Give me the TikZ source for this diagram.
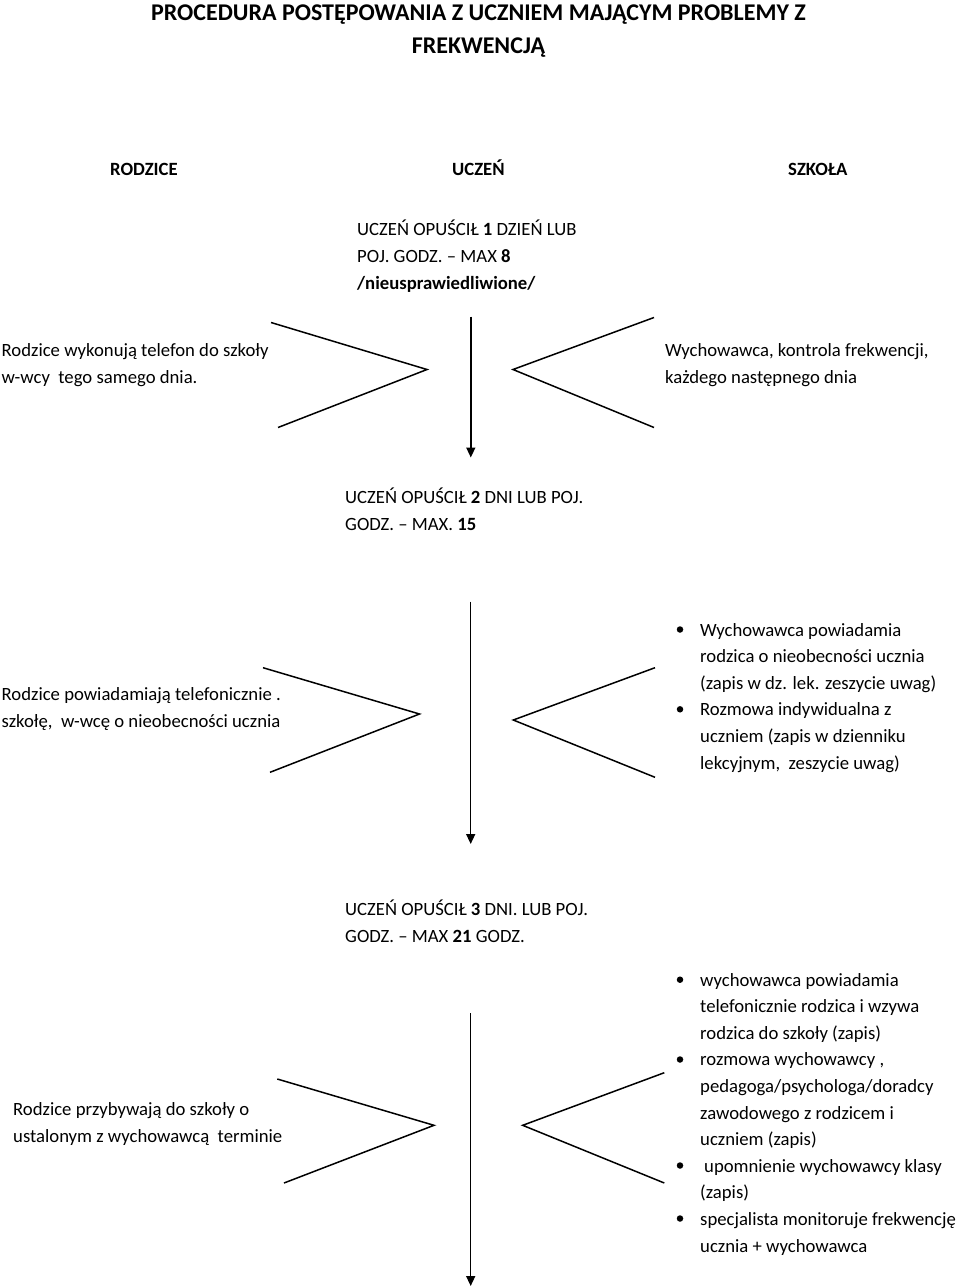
\documentclass[tikz,border=0pt]{standalone}
\usepackage{fontspec}
\setmainfont{Carlito}
\usetikzlibrary{arrows.meta}
\tikzset{
  txt/.style={anchor=base west, inner sep=0pt, align=left, font=\fontsize{18.7}{26.6}\selectfont},
  hdr/.style={anchor=base west, inner sep=0pt, font=\fontsize{18.7}{26.6}\selectfont\bfseries},
  ttl/.style={anchor=base, inner sep=0pt, font=\fontsize{24}{33}\selectfont\bfseries},
  chev/.style={line width=1.5pt, line join=miter},
  flow/.style={line width=1.5pt, -{Triangle[length=10pt,width=9pt]}},
  dot/.style={circle, fill, inner sep=0pt, minimum size=6.5pt},
}
\begin{document}
\begin{tikzpicture}[x=1pt,y=-1pt]
\useasboundingbox (0,0) rectangle (960,1288);
% title
\node[ttl] (t1) at (478.5,20.5) {PROCEDURA POSTĘPOWANIA Z UCZNIEM MAJĄCYM PROBLEMY Z};
\node[ttl] (t2) at (478.5,53) {FREKWENCJĄ};
% headers
\node[hdr] (hR) at (110,175) {RODZICE};
\node[hdr] (hU) at (452,175) {UCZEŃ};
\node[hdr] (hS) at (788,175) {SZKOŁA};
% block 1 (base anchor = baseline of last line)
\node[txt] (c1) at (357,289) {UCZEŃ OPUŚCIŁ {\bfseries 1} DZIEŃ LUB\\POJ. GODZ. – MAX {\bfseries 8}\\{\bfseries /nieusprawiedliwione/}};
\node[txt] (l1) at (1.5,383) {Rodzice wykonują telefon do szkoły\\w-wcy \ tego samego dnia.};
\node[txt] (r1) at (665,383) {Wychowawca, kontrola frekwencji,\\każdego następnego dnia};
\coordinate (L1a) at (271,322.5);
\coordinate (L1b) at (427,369.5);
\coordinate (L1c) at (278,427.5);
\coordinate (R1a) at (654,317.5);
\coordinate (R1b) at (513,369.5);
\coordinate (R1c) at (654,427.5);
\coordinate (A1s) at (470.8,316.7);
\coordinate (A1e) at (470.8,457.5);
\draw[chev] (L1a) -- (L1b) -- (L1c);
\draw[chev] (R1a) -- (R1b) -- (R1c);
\draw[flow] (A1s) -- (A1e);
% block 2
\node[txt] (c2) at (345,530) {UCZEŃ OPUŚCIŁ {\bfseries 2} DNI LUB POJ.\\GODZ. – MAX. {\bfseries 15}};
\node[txt] (l2) at (1.5,727.5) {Rodzice powiadamiają telefonicznie .\\szkołę, \ w-wcę o nieobecności ucznia};
\node[txt] (r2) at (700,769) {Wychowawca powiadamia\\rodzica o nieobecności ucznia\\(zapis w dz. lek. zeszycie uwag)\\Rozmowa indywidualna z\\uczniem (zapis w dzienniku\\lekcyjnym, \ zeszycie uwag)};
\node[dot] (b21) at (680,629.5) {};
\node[dot] (b22) at (680,709.3) {};
\coordinate (L2a) at (263,667.7);
\coordinate (L2b) at (419.5,714);
\coordinate (L2c) at (270,772.3);
\coordinate (R2a) at (655,667.7);
\coordinate (R2b) at (513.3,720);
\coordinate (R2c) at (655,777.3);
\coordinate (A2s) at (470.7,601.7);
\coordinate (A2e) at (470.7,844);
\draw[chev] (L2a) -- (L2b) -- (L2c);
\draw[chev] (R2a) -- (R2b) -- (R2c);
\draw[flow] (A2s) -- (A2e);
% block 3
\node[txt] (c3) at (345,942.5) {UCZEŃ OPUŚCIŁ {\bfseries 3} DNI. LUB POJ.\\GODZ. – MAX {\bfseries 21} GODZ.};
\node[txt] (l3) at (13,1142) {Rodzice przybywają do szkoły o\\ustalonym z wychowawcą \ terminie};
\node[txt] (r3) at (700,1252) {wychowawca powiadamia\\telefonicznie rodzica i wzywa\\rodzica do szkoły (zapis)\\rozmowa wychowawcy ,\\pedagoga/psychologa/doradcy\\zawodowego z rodzicem i\\uczniem (zapis)\\\hspace*{4pt}upomnienie wychowawcy klasy\\(zapis)\\specjalista monitoruje frekwencję\\ucznia + wychowawca};
\node[dot] (b31) at (680,979.7) {};
\node[dot] (b32) at (680,1059.5) {};
\node[dot] (b33) at (680,1165.5) {};
\node[dot] (b34) at (680,1218.5) {};
\coordinate (L3a) at (277.3,1079);
\coordinate (L3b) at (434,1125.3);
\coordinate (L3c) at (284,1183);
\coordinate (R3a) at (664.3,1072.7);
\coordinate (R3b) at (522.7,1125.3);
\coordinate (R3c) at (664.3,1183);
\coordinate (A3s) at (470.7,1013.3);
\coordinate (A3e) at (470.7,1286);
\draw[chev] (L3a) -- (L3b) -- (L3c);
\draw[chev] (R3a) -- (R3b) -- (R3c);
\draw[flow] (A3s) -- (A3e);
\end{tikzpicture}
\end{document}
